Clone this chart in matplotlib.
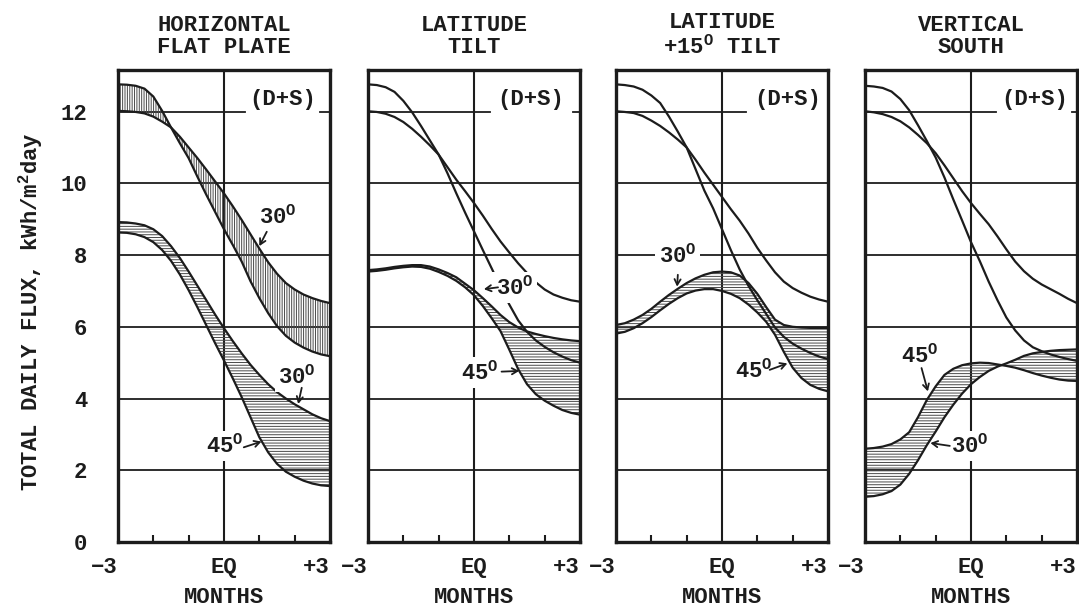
import matplotlib
matplotlib.use("Agg")
import matplotlib.pyplot as plt

plt.rcParams['font.family'] = ['Liberation Mono', 'DejaVu Sans Mono']
plt.rcParams['font.weight'] = 'bold'
plt.rcParams['axes.titleweight'] = 'bold'
plt.rcParams['axes.labelweight'] = 'bold'
plt.rcParams['mathtext.fontset'] = 'custom'
plt.rcParams['mathtext.rm'] = 'Liberation Mono:bold'
plt.rcParams['mathtext.default'] = 'rm'
plt.rcParams['hatch.linewidth'] = 0.7

ink = '#1c1c1c'
FS = 16

# months from the equinox, read every quarter month
months = [-3.0, -2.75, -2.5, -2.25, -2.0, -1.75, -1.5, -1.25, -1.0, -0.75, -0.5, -0.25,
          0.0, 0.25, 0.5, 0.75, 1.0, 1.25, 1.5, 1.75, 2.0, 2.25, 2.5, 2.75, 3.0]

# horizontal flat plate  (kWh/m2 day)
flat_a = [12.76, 12.75, 12.72, 12.64, 12.42, 12.02, 11.56, 11.12, 10.70, 10.18, 9.68, 9.20,
          8.72, 8.28, 7.82, 7.27, 6.80, 6.38, 6.02, 5.75, 5.56, 5.42, 5.31, 5.23, 5.18]
flat_b = [12.02, 12.01, 11.99, 11.95, 11.86, 11.72, 11.56, 11.30, 11.00, 10.70, 10.38, 10.05,
          9.72, 9.36, 8.98, 8.58, 8.18, 7.80, 7.48, 7.22, 7.04, 6.90, 6.80, 6.72, 6.66]
flat_c = [8.92, 8.91, 8.88, 8.83, 8.72, 8.53, 8.25, 7.92, 7.54, 7.14, 6.74, 6.34,
          5.96, 5.60, 5.26, 4.94, 4.66, 4.40, 4.18, 4.00, 3.84, 3.70, 3.56, 3.45, 3.37]
flat_d = [8.63, 8.62, 8.58, 8.50, 8.36, 8.14, 7.84, 7.46, 7.02, 6.54, 6.04, 5.54,
          5.06, 4.56, 4.04, 3.48, 2.92, 2.50, 2.18, 1.96, 1.82, 1.71, 1.63, 1.58, 1.56]

# latitude tilt
lat_e = [12.76, 12.74, 12.68, 12.55, 12.30, 11.98, 11.60, 11.20, 10.80, 10.28, 9.72, 9.18,
         8.66, 8.14, 7.63, 7.11, 6.62, 6.18, 5.86, 5.62, 5.44, 5.29, 5.17, 5.07, 5.00]
lat_f = [12.01, 11.99, 11.94, 11.85, 11.71, 11.52, 11.30, 11.06, 10.80, 10.45, 10.10, 9.78,
         9.45, 9.10, 8.73, 8.38, 8.07, 7.77, 7.50, 7.24, 7.04, 6.90, 6.81, 6.74, 6.70]
lat_g = [7.58, 7.60, 7.63, 7.67, 7.70, 7.72, 7.72, 7.68, 7.60, 7.50, 7.38, 7.20,
         7.02, 6.80, 6.57, 6.33, 6.13, 5.98, 5.87, 5.80, 5.74, 5.69, 5.65, 5.62, 5.60]
lat_h = [7.54, 7.56, 7.59, 7.63, 7.66, 7.68, 7.67, 7.62, 7.53, 7.42, 7.28, 7.10,
         6.88, 6.58, 6.24, 5.88, 5.36, 4.82, 4.40, 4.12, 3.94, 3.80, 3.68, 3.60, 3.55]

# latitude +15 tilt
l15_e = [12.76, 12.74, 12.70, 12.61, 12.45, 12.24, 11.86, 11.44, 11.00, 10.40, 9.80, 9.30,
         8.72, 8.14, 7.60, 7.14, 6.74, 6.36, 5.98, 5.72, 5.53, 5.39, 5.27, 5.17, 5.10]
l15_f = [12.01, 11.99, 11.96, 11.88, 11.75, 11.60, 11.42, 11.22, 11.00, 10.66, 10.30, 9.96,
         9.62, 9.28, 8.96, 8.60, 8.20, 7.85, 7.52, 7.26, 7.08, 6.95, 6.84, 6.76, 6.70]
l15_g = [6.05, 6.10, 6.20, 6.33, 6.50, 6.70, 6.89, 7.06, 7.22, 7.35, 7.45, 7.52,
         7.54, 7.52, 7.43, 7.22, 6.92, 6.55, 6.20, 6.05, 6.00, 5.98, 5.97, 5.97, 5.97]
l15_h = [5.81, 5.86, 5.96, 6.10, 6.27, 6.46, 6.64, 6.80, 6.93, 7.01, 7.05, 7.05,
         7.00, 6.92, 6.80, 6.62, 6.40, 6.14, 5.78, 5.30, 4.86, 4.57, 4.38, 4.27, 4.20]

# vertical south
vs_e = [12.72, 12.70, 12.66, 12.56, 12.35, 12.04, 11.62, 11.18, 10.72, 10.16, 9.55, 8.96,
        8.36, 7.83, 7.26, 6.74, 6.26, 5.90, 5.62, 5.43, 5.32, 5.23, 5.16, 5.10, 5.05]
vs_f = [12.01, 11.98, 11.93, 11.85, 11.73, 11.56, 11.35, 11.12, 10.84, 10.50, 10.14, 9.78,
        9.45, 9.15, 8.86, 8.52, 8.16, 7.82, 7.55, 7.34, 7.18, 7.05, 6.92, 6.78, 6.66]
vs_g = [2.60, 2.62, 2.66, 2.73, 2.86, 3.06, 3.48, 3.96, 4.34, 4.66, 4.83, 4.93,
        4.98, 5.00, 4.99, 4.95, 4.91, 4.86, 4.79, 4.71, 4.64, 4.58, 4.53, 4.50, 4.49]
vs_h = [1.26, 1.28, 1.33, 1.42, 1.60, 1.90, 2.28, 2.70, 3.08, 3.48, 3.83, 4.14,
        4.40, 4.60, 4.77, 4.89, 4.98, 5.08, 5.19, 5.26, 5.30, 5.33, 5.35, 5.36, 5.37]

titles = ['HORIZONTAL\nFLAT PLATE', 'LATITUDE\nTILT',
          'LATITUDE\n+15$^\\mathrm{O}$ TILT', 'VERTICAL\nSOUTH']

panels = [
    dict(top=(flat_a, flat_b), bot=(flat_c, flat_d), top_hatch='|||||||',
         labels=[('30', (1.52, 9.08), (1.21, 8.65), (1.0, 8.25)),
                 ('30', (2.06, 4.62), (2.2, 4.3), (2.1, 3.85)),
                 ('45', (0.02, 2.68), (0.56, 2.64), (1.06, 2.80))],
         ds_x=1.66, gap=(0.60, 0.955)),
    dict(top=(lat_e, lat_f), bot=(lat_g, lat_h), top_hatch=None,
         labels=[('30', (1.15, 7.1), (0.68, 7.1), (0.28, 7.05)),
                 ('45', (0.16, 4.72), (0.78, 4.75), (1.28, 4.77))],
         ds_x=1.61, gap=(0.575, 0.965)),
    dict(top=(l15_e, l15_f), bot=(l15_g, l15_h), top_hatch=None,
         labels=[('30', (-1.26, 8.0), (-1.25, 7.45), (-1.27, 7.12)),
                 ('45', (0.89, 4.79), (1.35, 4.80), (1.85, 4.98))],
         ds_x=1.85, gap=(0.615, None)),
    dict(top=(vs_e, vs_f), bot=(vs_g, vs_h), top_hatch=None,
         labels=[('45', (-1.45, 5.2), (-1.4, 4.85), (-1.22, 4.2)),
                 ('30', (-0.03, 2.68), (-0.6, 2.68), (-1.15, 2.76))],
         ds_x=1.81, gap=(0.62, 0.975)),
]

fig = plt.figure(figsize=(10.79, 6.13), dpi=100)
W, H = 1079.0, 613.0
lefts = [118, 368, 616, 865]

for i, p in enumerate(panels):
    ax = fig.add_axes([lefts[i] / W, (H - 542) / H, 212 / W, 472 / H])
    ax.set_xlim(-3, 3)
    ax.set_ylim(0, 13.16)

    # grid
    for yv in [2, 4, 6, 8, 10]:
        ax.axhline(yv, color=ink, lw=1.3, zorder=1)
    ax.axhline(12, xmin=0, xmax=p['gap'][0], color=ink, lw=1.3, zorder=1)
    if p['gap'][1] is not None:
        ax.axhline(12, xmin=p['gap'][1], xmax=1, color=ink, lw=1.3, zorder=1)
    ax.axvline(0, color=ink, lw=1.5, zorder=1)

    # bands
    a, b = p['top']
    c, d = p['bot']
    if p['top_hatch']:
        ax.fill_between(months, a, b, facecolor='none', edgecolor='#4a4a4a',
                        hatch=p['top_hatch'], linewidth=0, zorder=2)
    ax.fill_between(months, c, d, facecolor='none', edgecolor='#4a4a4a',
                    hatch='------', linewidth=0, zorder=2)
    for s in (a, b, c, d):
        ax.plot(months, s, color=ink, lw=1.6, zorder=3, solid_capstyle='butt')

    ax.text(p['ds_x'], 12.05, '(D+S)', ha='center', va='bottom', fontsize=FS,
            color=ink, zorder=5)

    for txt, xy, tail, head in p['labels']:
        ax.text(xy[0], xy[1], txt + '$^\\mathrm{O}$', ha='center', va='center',
                fontsize=FS, color=ink, zorder=6,
                bbox=dict(boxstyle='square,pad=0.15', fc='white', ec='none'))
        ax.annotate('', xy=head, xytext=tail, zorder=6,
                    arrowprops=dict(arrowstyle='->,head_length=0.4,head_width=0.22',
                                    color=ink, lw=1.3, shrinkA=0, shrinkB=0))

    # axes styling
    for sp in ax.spines.values():
        sp.set_linewidth(2.4)
        sp.set_color(ink)
    ax.set_xticks([-3, 0, 3])
    ax.set_xticklabels(['\u22123', 'EQ', '+3'])
    ax.set_xticks([-2, -1, 1, 2], minor=True)
    ax.tick_params(axis='x', which='major', length=0, pad=11, labelsize=FS, colors=ink)
    ax.tick_params(axis='x', which='minor', direction='in', length=5, width=1.5,
                   color=ink, top=False)
    xl = ax.get_xticklabels()
    xl[0].set_ha('right')
    xl[2].set_ha('right')
    ax.set_yticks([0, 2, 4, 6, 8, 10, 12])
    ax.tick_params(axis='y', length=0, pad=22, labelsize=FS, colors=ink)
    if i > 0:
        ax.set_yticklabels([])
    ax.set_xlabel('MONTHS', fontsize=FS, labelpad=6, color=ink)
    ax.set_title(titles[i], fontsize=FS, pad=12, linespacing=1.1, color=ink)

fig.text(31 / W, 1 - 312 / H, 'TOTAL DAILY FLUX, kWh/m$^2$day', rotation=90,
         ha='center', va='center', fontsize=FS, color=ink)

fig.savefig('out.png', dpi=100, facecolor='white')
